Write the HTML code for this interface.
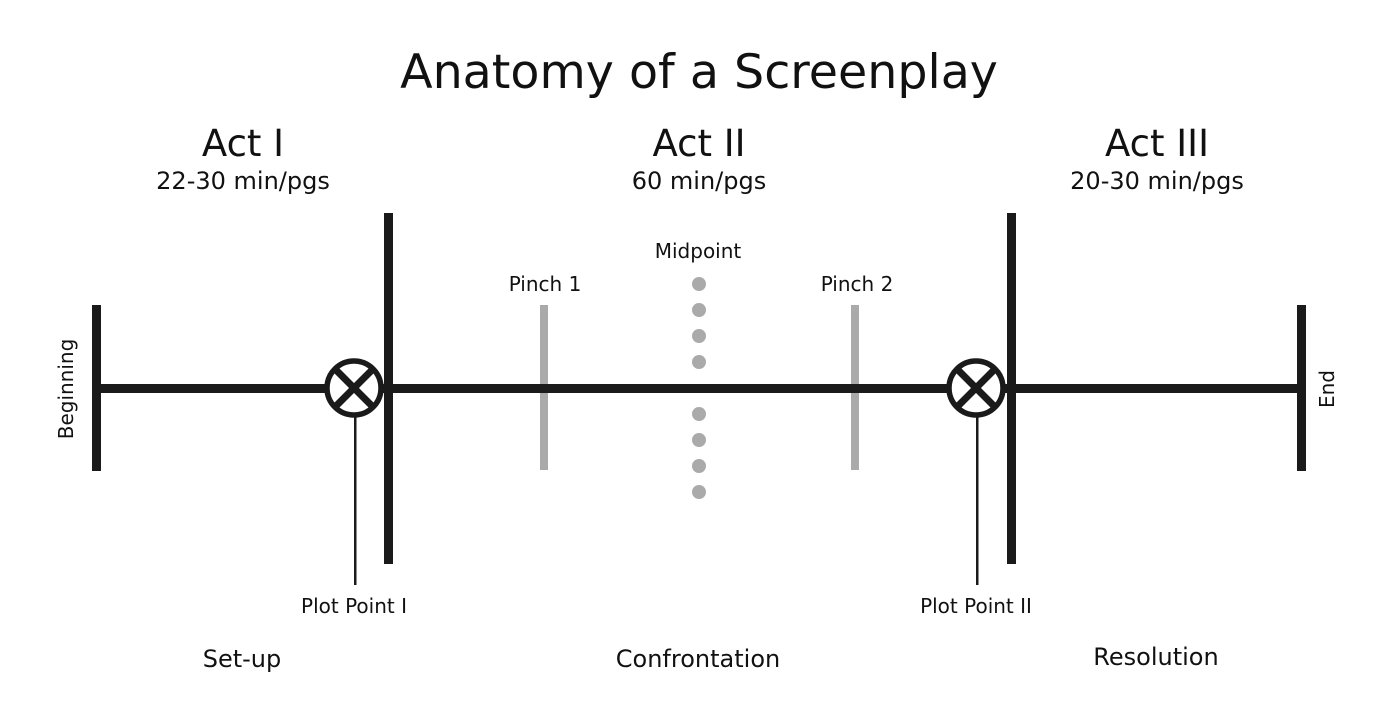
<!DOCTYPE html>
<html><head><style>
body{margin:0;background:#fff;}
svg{display:block;}
text{font-family:"DejaVu Sans","Liberation Sans",sans-serif;fill:#111;}
</style></head><body>
<svg width="1400" height="726" viewBox="0 0 1400 726">
<text x="699" y="88" font-size="47.5" text-anchor="middle">Anatomy of a Screenplay</text>
<text x="243" y="156" font-size="37" text-anchor="middle">Act I</text>
<text x="243" y="189" font-size="24" text-anchor="middle">22-30 min/pgs</text>
<text x="699" y="156" font-size="37" text-anchor="middle">Act II</text>
<text x="699" y="189" font-size="24" text-anchor="middle">60 min/pgs</text>
<text x="1157" y="156" font-size="37" text-anchor="middle">Act III</text>
<text x="1157" y="189" font-size="24" text-anchor="middle">20-30 min/pgs</text>
<g fill="#aaa">
<rect x="540" y="305" width="8" height="165"/>
<rect x="851" y="305" width="8" height="165"/>
<circle cx="699" cy="284" r="7"/><circle cx="699" cy="310" r="7"/><circle cx="699" cy="336" r="7"/><circle cx="699" cy="362" r="7"/>
<circle cx="699" cy="414" r="7"/><circle cx="699" cy="440" r="7"/><circle cx="699" cy="466" r="7"/><circle cx="699" cy="492" r="7"/>
</g>
<g fill="#1a1a1a">
<rect x="97" y="384" width="1205" height="9"/>
<rect x="92" y="305" width="9" height="166"/>
<rect x="1297" y="305" width="9" height="166"/>
<rect x="384" y="213" width="9" height="351"/>
<rect x="1007" y="213" width="9" height="351"/>
<rect x="354" y="415" width="2.5" height="170"/>
<rect x="976" y="415" width="2.5" height="170"/>
</g>
<g stroke="#1a1a1a" stroke-width="5.5" fill="#fff">
<circle cx="354" cy="388" r="27"/>
<circle cx="976" cy="388" r="27"/>
</g>
<g stroke="#1a1a1a" stroke-width="7">
<line x1="335" y1="369" x2="373" y2="407"/><line x1="373" y1="369" x2="335" y2="407"/>
<line x1="957" y1="369" x2="995" y2="407"/><line x1="995" y1="369" x2="957" y2="407"/>
</g>
<text x="545" y="291" font-size="20" text-anchor="middle">Pinch 1</text>
<text x="857" y="291" font-size="20" text-anchor="middle">Pinch 2</text>
<text x="698" y="258" font-size="20" text-anchor="middle">Midpoint</text>
<text x="354" y="613" font-size="20" text-anchor="middle">Plot Point I</text>
<text x="976" y="613" font-size="20" text-anchor="middle">Plot Point II</text>
<text x="242" y="667" font-size="24" text-anchor="middle">Set-up</text>
<text x="698" y="667" font-size="24" text-anchor="middle">Confrontation</text>
<text x="1156" y="665" font-size="24" text-anchor="middle">Resolution</text>
<text transform="translate(73,389) rotate(-90)" font-size="20" text-anchor="middle">Beginning</text>
<text transform="translate(1334,389) rotate(-90)" font-size="20" text-anchor="middle">End</text>
</svg>
</body></html>
